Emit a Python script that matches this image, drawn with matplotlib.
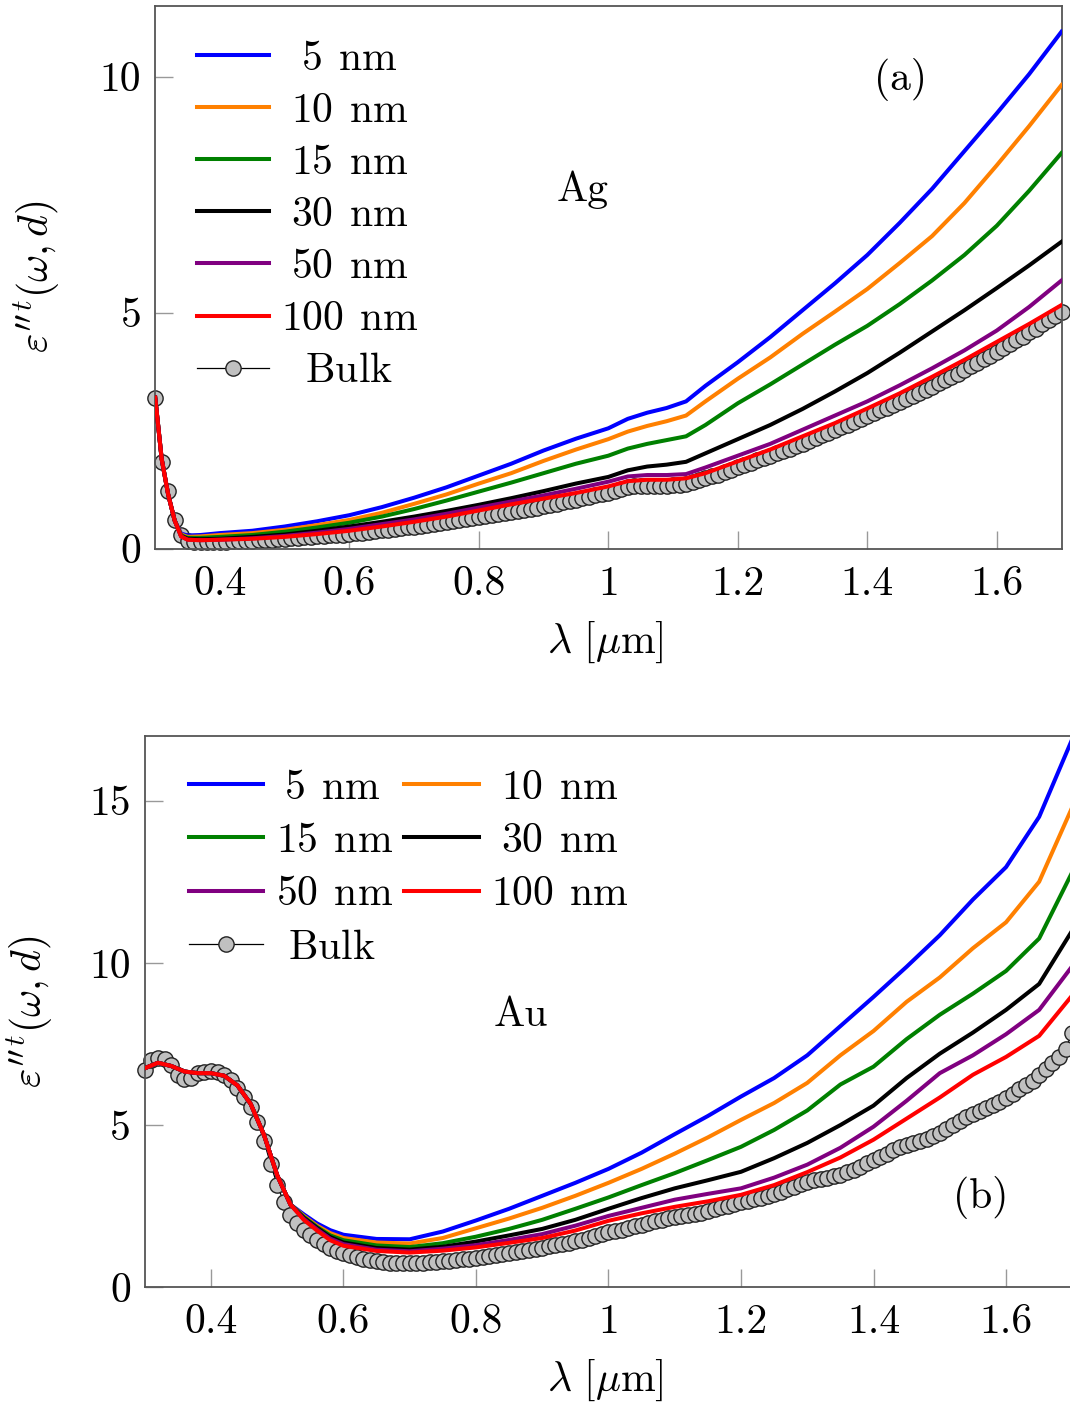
import numpy as np
import matplotlib
matplotlib.use("Agg")
import matplotlib.pyplot as plt

plt.rcParams['font.family'] = 'cmr10'
plt.rcParams['mathtext.fontset'] = 'cm'
plt.rcParams['axes.unicode_minus'] = False
plt.rcParams['axes.formatter.use_mathtext'] = True

# ---------------- data: Ag (panel a) ----------------
ag_x = [0.30, 0.31, 0.32, 0.33, 0.34, 0.35, 0.37, 0.40, 0.45, 0.50, 0.55, 0.60,
        0.65, 0.70, 0.75, 0.80, 0.85, 0.90, 0.95, 1.00, 1.03, 1.06, 1.09, 1.12,
        1.15, 1.20, 1.25, 1.30, 1.35, 1.40, 1.45, 1.50, 1.55, 1.60, 1.65, 1.70]
ag_5 = [3.20, 1.90, 1.15, 0.60, 0.32, 0.28, 0.29, 0.33, 0.38, 0.47, 0.58, 0.71,
        0.88, 1.08, 1.30, 1.55, 1.80, 2.08, 2.33, 2.55, 2.75, 2.88, 2.98, 3.12,
        3.45, 3.95, 4.48, 5.05, 5.62, 6.22, 6.90, 7.62, 8.42, 9.22, 10.05, 10.95]
ag_10 = [3.20, 1.90, 1.15, 0.60, 0.30, 0.25, 0.26, 0.29, 0.33, 0.40, 0.50, 0.61,
         0.76, 0.95, 1.15, 1.38, 1.60, 1.86, 2.10, 2.32, 2.48, 2.60, 2.70, 2.82,
         3.12, 3.60, 4.05, 4.55, 5.02, 5.50, 6.05, 6.62, 7.32, 8.12, 8.95, 9.82]
ag_15 = [3.20, 1.90, 1.15, 0.60, 0.28, 0.23, 0.23, 0.25, 0.29, 0.36, 0.45, 0.55,
         0.68, 0.84, 1.02, 1.21, 1.40, 1.60, 1.80, 1.97, 2.12, 2.22, 2.30, 2.38,
         2.62, 3.08, 3.48, 3.90, 4.32, 4.72, 5.18, 5.68, 6.22, 6.84, 7.58, 8.38]
ag_30 = [3.20, 1.90, 1.15, 0.60, 0.27, 0.21, 0.20, 0.21, 0.25, 0.30, 0.38, 0.47,
         0.57, 0.68, 0.80, 0.93, 1.07, 1.22, 1.38, 1.52, 1.66, 1.74, 1.78, 1.84,
         2.02, 2.32, 2.62, 2.96, 3.33, 3.72, 4.15, 4.60, 5.05, 5.52, 6.00, 6.50]
ag_50 = [3.20, 1.90, 1.15, 0.60, 0.26, 0.19, 0.18, 0.19, 0.22, 0.27, 0.34, 0.42,
         0.52, 0.62, 0.74, 0.87, 1.00, 1.13, 1.27, 1.42, 1.53, 1.56, 1.56, 1.58,
         1.72, 1.97, 2.22, 2.52, 2.82, 3.12, 3.46, 3.82, 4.20, 4.62, 5.12, 5.68]
ag_100 = [3.20, 1.90, 1.15, 0.60, 0.26, 0.19, 0.18, 0.19, 0.21, 0.25, 0.31, 0.38,
          0.47, 0.57, 0.68, 0.81, 0.94, 1.06, 1.18, 1.32, 1.43, 1.46, 1.46, 1.49,
          1.60, 1.85, 2.10, 2.38, 2.66, 2.97, 3.29, 3.64, 4.00, 4.38, 4.76, 5.16]

# bulk markers: one every 0.01 um from 0.30 to 1.70
bulk_x = np.linspace(0.30, 1.70, 141)
ag_bulk = [3.20, 1.84, 1.22, 0.61, 0.29, 0.17, 0.15, 0.14, 0.14, 0.14,
           0.15, 0.15, 0.16, 0.16, 0.17, 0.17, 0.18, 0.19, 0.19, 0.20,
           0.21, 0.22, 0.23, 0.24, 0.25, 0.26, 0.27, 0.28, 0.29, 0.30,
           0.31, 0.33, 0.34, 0.36, 0.37, 0.39, 0.40, 0.42, 0.43, 0.45,
           0.47, 0.49, 0.51, 0.53, 0.55, 0.57, 0.59, 0.61, 0.63, 0.65,
           0.67, 0.69, 0.71, 0.73, 0.75, 0.78, 0.80, 0.82, 0.85, 0.87,
           0.90, 0.92, 0.95, 0.98, 1.01, 1.04, 1.07, 1.10, 1.13, 1.16,
           1.19, 1.23, 1.27, 1.30, 1.32, 1.33, 1.33, 1.33, 1.33, 1.33,
           1.34, 1.35, 1.37, 1.41, 1.45, 1.49, 1.53, 1.57, 1.62, 1.67,
           1.72, 1.77, 1.82, 1.87, 1.92, 1.97, 2.02, 2.07, 2.12, 2.17,
           2.22, 2.28, 2.34, 2.40, 2.46, 2.52, 2.57, 2.63, 2.69, 2.75,
           2.81, 2.87, 2.93, 2.99, 3.05, 3.11, 3.17, 3.24, 3.30, 3.37,
           3.43, 3.50, 3.57, 3.64, 3.71, 3.78, 3.86, 3.93, 4.01, 4.09,
           4.17, 4.25, 4.33, 4.41, 4.49, 4.58, 4.66, 4.75, 4.84, 4.93,
           5.02]

# ---------------- data: Au (panel b) ----------------
au_x = [0.30, 0.32, 0.34, 0.36, 0.38, 0.40, 0.42, 0.44, 0.46, 0.48, 0.50, 0.52,
        0.54, 0.56, 0.58, 0.60, 0.65, 0.70, 0.75, 0.80, 0.85, 0.90, 0.95, 1.00,
        1.05, 1.10, 1.15, 1.20, 1.25, 1.30, 1.35, 1.40, 1.45, 1.50, 1.55, 1.60,
        1.65, 1.70]
au_5 = [6.75, 6.92, 6.82, 6.65, 6.60, 6.60, 6.52, 6.22, 5.65, 4.70, 3.45, 2.55,
        2.25, 1.97, 1.76, 1.62, 1.49, 1.48, 1.72, 2.06, 2.42, 2.82, 3.22, 3.65,
        4.15, 4.72, 5.28, 5.88, 6.45, 7.15, 8.05, 8.95, 9.88, 10.85, 11.95, 12.95,
        14.50, 16.90]
au_10 = [6.75, 6.92, 6.82, 6.65, 6.60, 6.60, 6.52, 6.22, 5.65, 4.70, 3.45, 2.55,
         2.20, 1.90, 1.67, 1.52, 1.38, 1.35, 1.52, 1.82, 2.12, 2.45, 2.82, 3.22,
         3.65, 4.12, 4.62, 5.16, 5.68, 6.30, 7.15, 7.90, 8.80, 9.55, 10.45, 11.25,
         12.50, 14.80]
au_15 = [6.75, 6.92, 6.82, 6.65, 6.60, 6.60, 6.52, 6.22, 5.65, 4.70, 3.45, 2.55,
         2.17, 1.86, 1.60, 1.45, 1.29, 1.24, 1.36, 1.56, 1.80, 2.08, 2.42, 2.77,
         3.15, 3.52, 3.92, 4.33, 4.85, 5.45, 6.25, 6.80, 7.65, 8.40, 9.05, 9.75,
         10.75, 12.80]
au_30 = [6.75, 6.92, 6.82, 6.65, 6.60, 6.60, 6.52, 6.22, 5.65, 4.70, 3.45, 2.55,
         2.14, 1.83, 1.55, 1.38, 1.21, 1.16, 1.25, 1.41, 1.60, 1.80, 2.08, 2.42,
         2.75, 3.05, 3.30, 3.56, 3.98, 4.45, 5.00, 5.60, 6.45, 7.20, 7.85, 8.55,
         9.35, 11.00]
au_50 = [6.75, 6.92, 6.82, 6.65, 6.60, 6.60, 6.52, 6.22, 5.65, 4.70, 3.45, 2.55,
         2.11, 1.79, 1.50, 1.33, 1.16, 1.11, 1.19, 1.30, 1.46, 1.64, 1.90, 2.20,
         2.45, 2.70, 2.88, 3.05, 3.38, 3.78, 4.30, 4.95, 5.75, 6.60, 7.15, 7.80,
         8.55, 9.90]
au_100 = [6.75, 6.92, 6.82, 6.65, 6.60, 6.60, 6.52, 6.22, 5.65, 4.70, 3.45, 2.55,
          2.08, 1.75, 1.45, 1.28, 1.12, 1.07, 1.13, 1.23, 1.37, 1.52, 1.75, 2.05,
          2.28, 2.48, 2.65, 2.85, 3.15, 3.55, 4.00, 4.55, 5.20, 5.85, 6.55, 7.10,
          7.75, 9.00]
au_bulk = [6.70, 7.01, 7.06, 7.03, 6.85, 6.54, 6.41, 6.44, 6.60, 6.65,
           6.68, 6.65, 6.54, 6.40, 6.15, 5.88, 5.55, 5.10, 4.50, 3.80,
           3.15, 2.62, 2.22, 1.98, 1.78, 1.60, 1.45, 1.33, 1.22, 1.13,
           1.05, 0.99, 0.93, 0.88, 0.84, 0.81, 0.78, 0.76, 0.75, 0.74,
           0.74, 0.75, 0.76, 0.77, 0.79, 0.80, 0.82, 0.84, 0.86, 0.88,
           0.91, 0.94, 0.97, 1.00, 1.03, 1.06, 1.09, 1.12, 1.15, 1.18,
           1.22, 1.26, 1.30, 1.34, 1.38, 1.42, 1.47, 1.52, 1.57, 1.63,
           1.70, 1.74, 1.78, 1.82, 1.88, 1.93, 1.98, 2.03, 2.08, 2.13,
           2.17, 2.20, 2.23, 2.26, 2.30, 2.35, 2.40, 2.46, 2.52, 2.57,
           2.62, 2.66, 2.71, 2.76, 2.82, 2.88, 2.94, 3.02, 3.10, 3.18,
           3.25, 3.30, 3.34, 3.38, 3.42, 3.47, 3.54, 3.62, 3.72, 3.83,
           3.92, 4.02, 4.12, 4.23, 4.33, 4.40, 4.45, 4.50, 4.57, 4.65,
           4.76, 4.88, 5.00, 5.12, 5.24, 5.34, 5.44, 5.54, 5.63, 5.72,
           5.82, 5.95, 6.10, 6.25, 6.35, 6.55, 6.72, 6.90, 7.10, 7.35,
           7.85]

x_ticks = [0.4, 0.6, 0.8, 1.0, 1.2, 1.4, 1.6]
x_ticklabels = ['0.4', '0.6', '0.8', '1', '1.2', '1.4', '1.6']
ya_ticks = [0, 5, 10]
yb_ticks = [0, 5, 10, 15]

colors = ['#0000ff', '#ff8000', '#008000', '#000000', '#800080', '#ff0000']

# ---------------- styling ----------------
FS = 30
LW = 2.9
SPINE = '#555555'
TICKC = '#999999'

fig = plt.figure(figsize=(10.7, 14.08), dpi=100)
ax1 = fig.add_axes([0.14505, 0.61030, 0.84701, 0.38565])
ax2 = fig.add_axes([0.13523, 0.08572, 0.86692, 0.39177])


def style(ax, yticks, ylim):
    ax.set_xlim(0.3, 1.7)
    ax.set_ylim(*ylim)
    ax.set_xticks(x_ticks)
    ax.set_xticklabels(x_ticklabels)
    ax.set_yticks(yticks)
    ax.set_yticklabels([str(v) for v in yticks])
    ax.tick_params(direction='in', length=13, width=1.0, color=TICKC,
                   labelsize=FS, pad=10, top=False, right=False)
    ax.tick_params(axis='x', pad=12)
    for s in ax.spines.values():
        s.set_color(SPINE)
        s.set_linewidth(1.3)
    ax.set_xlabel(r'$\lambda\ [\mu\mathrm{m}]$', fontsize=FS)
    ax.set_ylabel(r'$\varepsilon^{\prime\prime\,t}(\omega,d)$', fontsize=FS)


def bulk(ax, y):
    return ax.plot(bulk_x, y, color='black', lw=0.9, marker='o', ms=11,
                   mfc='#c0c0c0', mec='#222222', mew=1.0, zorder=2,
                   clip_on=False)[0]


SP = r'\;\,'   # gap between number and unit

# ---- panel (a) Ag ----
style(ax1, ya_ticks, (0, 11.5))
hb1 = bulk(ax1, ag_bulk)
lines1 = []
for y, c in zip([ag_5, ag_10, ag_15, ag_30, ag_50, ag_100], colors):
    lines1.append(ax1.plot(ag_x, y, color=c, lw=LW, zorder=3,
                           solid_joinstyle='round')[0])
labels_a = [r'$\ \:\mathrm{5}' + SP + r'\mathrm{nm}$',
            r'$\;\mathrm{10}' + SP + r'\mathrm{nm}$',
            r'$\;\mathrm{15}' + SP + r'\mathrm{nm}$',
            r'$\;\mathrm{30}' + SP + r'\mathrm{nm}$',
            r'$\;\mathrm{50}' + SP + r'\mathrm{nm}$',
            r'$\mathrm{100}' + SP + r'\mathrm{nm}$',
            r'$\ \ \mathrm{Bulk}$']
ax1.legend(lines1 + [hb1], labels_a, loc='upper left',
           bbox_to_anchor=(0.0461, 0.936), frameon=False, fontsize=FS,
           handlelength=1.72, handletextpad=0.3, labelspacing=0.35,
           borderpad=0, borderaxespad=0)
ax1.text(1.452, 9.93, '(a)', fontsize=FS, ha='center', va='center')
ax1.text(0.961, 7.60, 'Ag', fontsize=FS, ha='center', va='center')
ax1.xaxis.set_label_coords(0.496, -0.131)
ax1.yaxis.set_label_coords(-0.103, 0.5)

# ---- panel (b) Au ----
style(ax2, yb_ticks, (0, 17))
ax2.spines['right'].set_visible(False)
hb2 = bulk(ax2, au_bulk)
lines2 = []
for y, c in zip([au_5, au_10, au_15, au_30, au_50, au_100], colors):
    lines2.append(ax2.plot(au_x, y, color=c, lw=LW, zorder=3,
                           solid_joinstyle='round')[0])
order_h = [lines2[0], lines2[2], lines2[4], hb2, lines2[1], lines2[3], lines2[5]]
labels_b = [r'$\:\mathrm{5}' + SP + r'\mathrm{nm}$',
            r'$\mathrm{15}' + SP + r'\mathrm{nm}$',
            r'$\mathrm{50}' + SP + r'\mathrm{nm}$',
            r'$\ \mathrm{Bulk}$',
            r'$\;\mathrm{10}' + SP + r'\mathrm{nm}$',
            r'$\;\mathrm{30}' + SP + r'\mathrm{nm}$',
            r'$\mathrm{100}' + SP + r'\mathrm{nm}$']
ax2.legend(order_h, labels_b, ncols=2, loc='upper left',
           bbox_to_anchor=(0.0478, 0.939), frameon=False, fontsize=FS,
           handlelength=1.78, handletextpad=0.3, labelspacing=0.38,
           columnspacing=0.28, borderpad=0, borderaxespad=0)
ax2.text(0.868, 8.39, 'Au', fontsize=FS, ha='center', va='center')
ax2.text(1.561, 2.78, '(b)', fontsize=FS, ha='center', va='center')
ax2.xaxis.set_label_coords(0.496, -0.128)
ax2.yaxis.set_label_coords(-0.097, 0.5)

fig.savefig('out.png', dpi=100)
